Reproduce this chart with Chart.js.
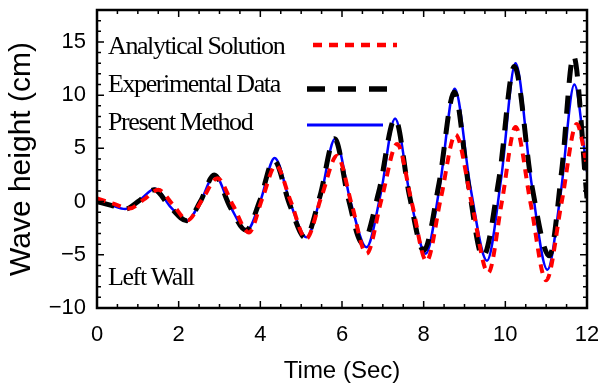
<!DOCTYPE html>
<html>
<head>
<meta charset="utf-8">
<script src="https://cdn.jsdelivr.net/npm/chart.js@4/dist/chart.umd.min.js"></script>
<style>
html, body { margin: 0; padding: 0; background: #fff; }
</style>
</head>
<body>
<canvas id="grafico-ondas" width="598" height="387"></canvas>
<script>
// valores (tempo em s, altura em cm)
var tempo_analitico = [0, 0.4, 0.8, 1.15, 1.5, 1.86, 2.22, 2.58, 2.95, 3.33, 3.72, 4.05, 4.38, 4.75, 5.12, 5.5, 5.88, 6.24, 6.6, 6.97, 7.35, 7.71, 8.07, 8.42, 8.78, 9.18, 9.58, 9.92, 10.25, 10.62, 11.0, 11.38, 11.75, 12.0];
var onda_analitica  = [0.3, -0.2, -0.65, 0.2, 1.1, -0.3, -1.75, 0.2, 2.2, -0.35, -2.9, 0.3, 3.4, -0.05, -3.5, 0.5, 4.3, -0.3, -4.9, 0.25, 5.4, -0.1, -5.6, 0.3, 6.3, -0.2, -6.7, 0.1, 7.0, -0.2, -7.4, -0.05, 7.3, 3.4];

var tempo_experimental = [0, 0.35, 0.69, 1.04, 1.4, 1.8, 2.2, 2.53, 2.87, 3.26, 3.65, 3.99, 4.33, 4.72, 5.1, 5.46, 5.82, 6.16, 6.5, 6.9, 7.3, 7.65, 8.0, 8.38, 8.75, 9.1, 9.45, 9.85, 10.22, 10.65, 11.08, 11.38, 11.67, 12.0];
var onda_experimental  = [0, -0.35, -0.7, 0.1, 1.1, -0.55, -1.8, 0.0, 2.5, -0.5, -2.7, 0.1, 3.9, -0.3, -3.4, 0.5, 5.9, 0.2, -3.95, 0.9, 7.8, 0.6, -4.6, 1.8, 10.3, 1.5, -5.2, 2.3, 12.7, 1.5, -5.1, 2.9, 13.7, 0.3];

var tempo_metodo = [0, 0.35, 0.69, 1.05, 1.42, 1.81, 2.2, 2.54, 2.88, 3.27, 3.67, 4.01, 4.35, 4.74, 5.13, 5.48, 5.83, 6.21, 6.6, 6.95, 7.3, 7.67, 8.05, 8.4, 8.76, 9.15, 9.55, 9.9, 10.25, 10.64, 11.03, 11.36, 11.69, 12.0];
var onda_metodo  = [0, -0.35, -0.7, 0.15, 1.2, -0.55, -1.8, 0.05, 2.5, -0.5, -2.7, 0.16, 4.1, -0.2, -3.35, 0.54, 5.9, 0.0, -4.3, 0.78, 7.8, 0.43, -4.9, 1.6, 10.6, 1.23, -5.55, 2.24, 13.0, 1.75, -6.4, 0.9, 11.0, 2.8];

var legenda_textos = ['Analytical Solution', 'Experimental Data', 'Present Method'];
var texto_parede   = 'Left Wall';

function pontos(tempos, valores) {
    return tempos.map(function (t, i) { return { x: t, y: valores[i] }; });
}

// cores e tracejados das series
var estilos = [
    { cor: '#ff0000', largura: 4,   traco: [9, 7] },
    { cor: '#000000', largura: 5,   traco: [18, 13] },
    { cor: '#0000ff', largura: 2.5, traco: [] }
];

function sinal(v) {
    if (v % 5 !== 0) return '';
    return v < 0 ? '\u2212' + Math.abs(v) : '' + v;
}

// moldura, marcas internas e legenda
var moldura = {
    id: 'moldura',
    afterDraw: function (chart) {
        var ctx = chart.ctx, a = chart.chartArea;
        var x = chart.scales.x, y = chart.scales.y;
        ctx.save();
        ctx.strokeStyle = '#000';
        ctx.lineWidth = 1.5;
        ctx.beginPath();
        for (var t = 0; t <= 12; t += 0.5) {
            var px = x.getPixelForValue(t);
            var l = (t % 2 === 0) ? 7 : 4;
            ctx.moveTo(px, a.bottom); ctx.lineTo(px, a.bottom - l);
            ctx.moveTo(px, a.top); ctx.lineTo(px, a.top + l);
        }
        for (var v = -10; v <= 18; v++) {
            var py = y.getPixelForValue(v);
            var m = (v % 5 === 0) ? 7 : 4;
            ctx.moveTo(a.left, py); ctx.lineTo(a.left + m, py);
            ctx.moveTo(a.right, py); ctx.lineTo(a.right - m, py);
        }
        ctx.stroke();
        ctx.lineWidth = 2.5;
        ctx.strokeRect(a.left, a.top, a.right - a.left, a.bottom - a.top);

        // legenda
        ctx.fillStyle = '#000';
        ctx.font = '26px "Liberation Serif"';
        ctx.textBaseline = 'alphabetic';
        ctx.textAlign = 'left';
        if ('letterSpacing' in ctx) ctx.letterSpacing = '-1.4px';
        var linhas = [54, 92, 130];
        var amostras = [[313, 397, 45], [307, 397, 89], [307, 383, 125]];
        legenda_textos.forEach(function (txt, i) {
            ctx.fillText(txt, a.left + 11, linhas[i]);
        });
        ctx.fillText(texto_parede, a.left + 11, 285);
        if ('letterSpacing' in ctx) ctx.letterSpacing = '0px';
        amostras.forEach(function (s, i) {
            ctx.beginPath();
            ctx.strokeStyle = estilos[i].cor;
            ctx.lineWidth = estilos[i].largura + 0.5;
            ctx.setLineDash(estilos[i].traco);
            ctx.moveTo(s[0], s[2]);
            ctx.lineTo(s[1], s[2]);
            ctx.stroke();
        });
        ctx.restore();
    }
};

var series = [
    pontos(tempo_analitico, onda_analitica),
    pontos(tempo_experimental, onda_experimental),
    pontos(tempo_metodo, onda_metodo)
];

var config = {
    type: 'line',
    data: {
        datasets: series.map(function (d, i) {
            return {
                label: legenda_textos[i],
                data: d,
                borderColor: estilos[i].cor,
                borderWidth: estilos[i].largura,
                borderDash: estilos[i].traco,
                cubicInterpolationMode: 'monotone',
                pointRadius: 0,
                fill: false
            };
        })
    },
    options: {
        responsive: false,
        animation: false,
        devicePixelRatio: 1,
        layout: { padding: { top: 10, right: 11, left: 0, bottom: 0 } },
        plugins: { legend: { display: false }, tooltip: { enabled: false } },
        scales: {
            x: {
                type: 'linear', min: 0, max: 12,
                grid: { display: false, drawTicks: false },
                border: { display: false },
                ticks: { stepSize: 2, color: '#000', padding: 14, maxRotation: 0,
                         font: { family: 'Liberation Sans', size: 22 } },
                title: { display: true, text: 'Time (Sec)', color: '#000',
                         font: { family: 'Liberation Sans', size: 24 }, padding: { top: 0, bottom: 1 } },
                afterFit: function (s) { s.height = 79; s.paddingLeft = 0; s.paddingRight = 0; }
            },
            y: {
                type: 'linear', min: -10, max: 18,
                grid: { display: false, drawTicks: false },
                border: { display: false },
                ticks: { stepSize: 5, color: '#000', padding: 11, callback: sinal,
                         font: { family: 'Liberation Sans', size: 22 } },
                title: { display: true, text: 'Wave height (cm)', color: '#000',
                         font: { family: 'Liberation Sans', size: 30 }, padding: { top: 4, bottom: 0 } },
                afterFit: function (s) { s.width = 97; s.paddingTop = 0; s.paddingBottom = 0; }
            }
        }
    },
    plugins: [moldura]
};

const Grafico_Ondas = new Chart(document.getElementById('grafico-ondas'), config);
</script>
</body>
</html>
